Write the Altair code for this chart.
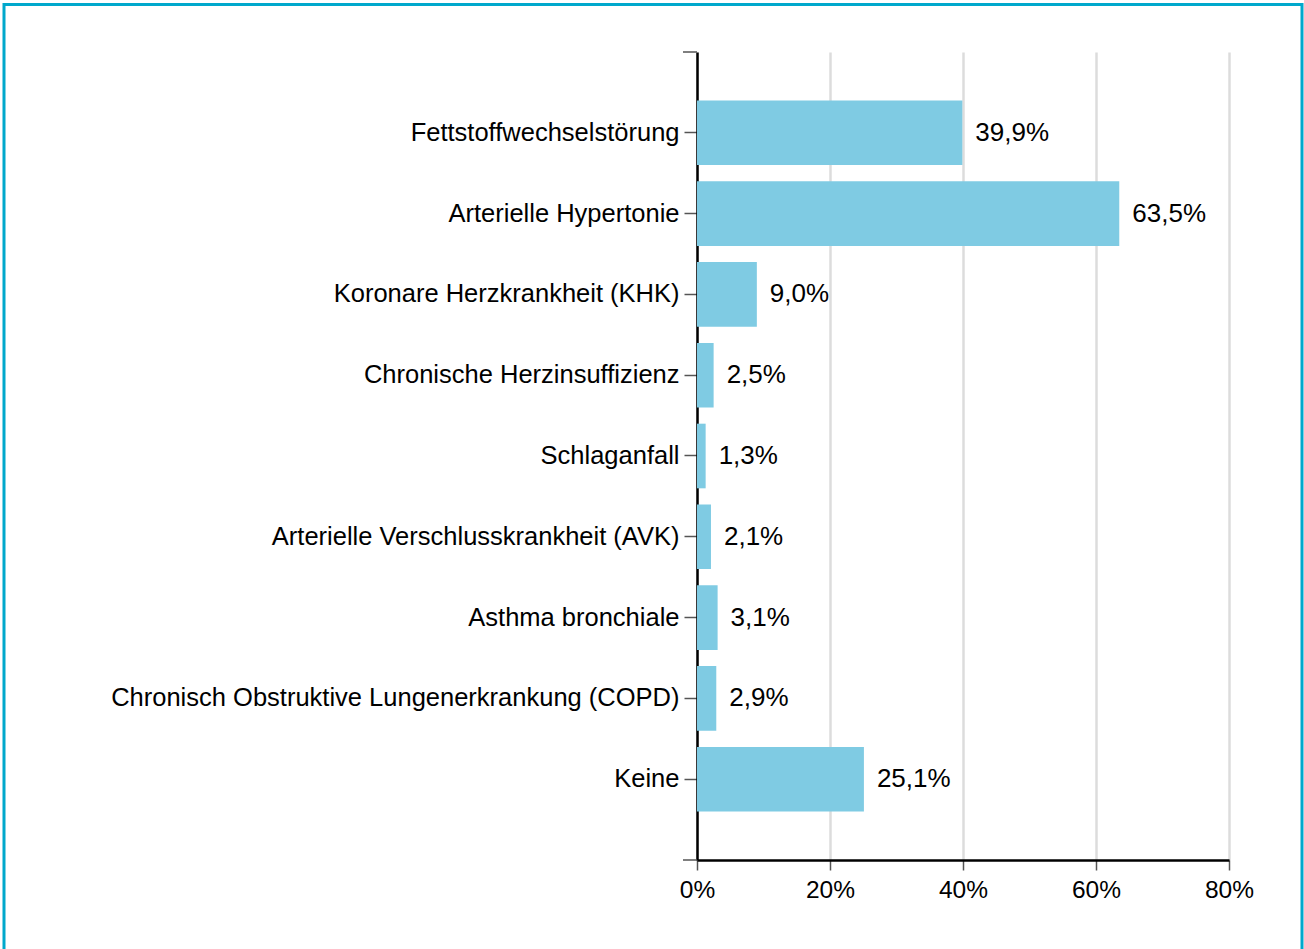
import altair as alt
import pandas as pd

categories = [
    "Fettstoffwechselstörung",
    "Arterielle Hypertonie",
    "Koronare Herzkrankheit (KHK)",
    "Chronische Herzinsuffizienz",
    "Schlaganfall",
    "Arterielle Verschlusskrankheit (AVK)",
    "Asthma bronchiale",
    "Chronisch Obstruktive Lungenerkrankung (COPD)",
    "Keine",
]
values = [39.9, 63.5, 9.0, 2.5, 1.3, 2.1, 3.1, 2.9, 25.1]
x_ticks = [0, 20, 40, 60, 80]

df = pd.DataFrame({"cat": categories, "val": values})
df["label"] = [f"{v:.1f}".replace(".", ",") + "%" for v in values]

FONT = "Liberation Sans"
W, H = 532, 808

y_enc = alt.Y(
    "cat:N",
    sort=categories,
    scale=alt.Scale(paddingInner=0.2, paddingOuter=0.6),
    axis=alt.Axis(
        title=None,
        labelFont=FONT,
        labelFontSize=25.5,
        labelColor="#000000",
        labelPadding=5,
        labelLimit=700,
        tickSize=13,
        tickColor="#555555",
        tickWidth=1.5,
        domainColor="#000000",
        domainWidth=2.5,
        grid=False,
    ),
)

x_enc = alt.X(
    "val:Q",
    scale=alt.Scale(domain=[0, 80], nice=False),
    axis=alt.Axis(
        title=None,
        values=x_ticks,
        labelExpr="datum.value + '%'",
        labelFont=FONT,
        labelFontSize=24.5,
        labelColor="#000000",
        labelPadding=8,
        labelFlush=False,
        tickSize=10,
        tickColor="#555555",
        tickWidth=1.5,
        domainColor="#000000",
        domainWidth=2.5,
        grid=True,
        gridColor="#dcdcdc",
        gridWidth=2.5,
    ),
)

base = alt.Chart(df)

bars = base.mark_bar(color="#7fcbe3").encode(x=x_enc, y=y_enc)

texts = base.mark_text(
    align="left", baseline="middle", dx=13, font=FONT, fontSize=26, color="#000000"
).encode(x="val:Q", y=alt.Y("cat:N", sort=categories), text="label:N")

end_ticks = alt.Chart(pd.DataFrame({"p": ["top", "bottom"], "yy": [0, H]})).mark_rule(
    color="#555555", strokeWidth=1.5
).encode(x=alt.value(-14), x2=alt.value(0), y=alt.Y("yy:Q", scale=None))

frame = alt.Chart(pd.DataFrame({"a": [1]})).mark_rect(
    fill=None, stroke="#00a8cc", strokeWidth=3
).encode(
    x=alt.value(-693), x2=alt.value(605), y=alt.value(-47.5), y2=alt.value(905)
)

chart = (
    alt.layer(bars, texts, end_ticks, frame)
    .properties(
        width=W,
        height=H,
        autosize=alt.AutoSizeParams(type="none"),
        padding={"left": 697, "top": 52, "right": 75, "bottom": 89},
        background="#ffffff",
    )
    .configure_view(stroke=None)
)

chart.save("out.html", embed_options={"renderer": "svg", "actions": False})
